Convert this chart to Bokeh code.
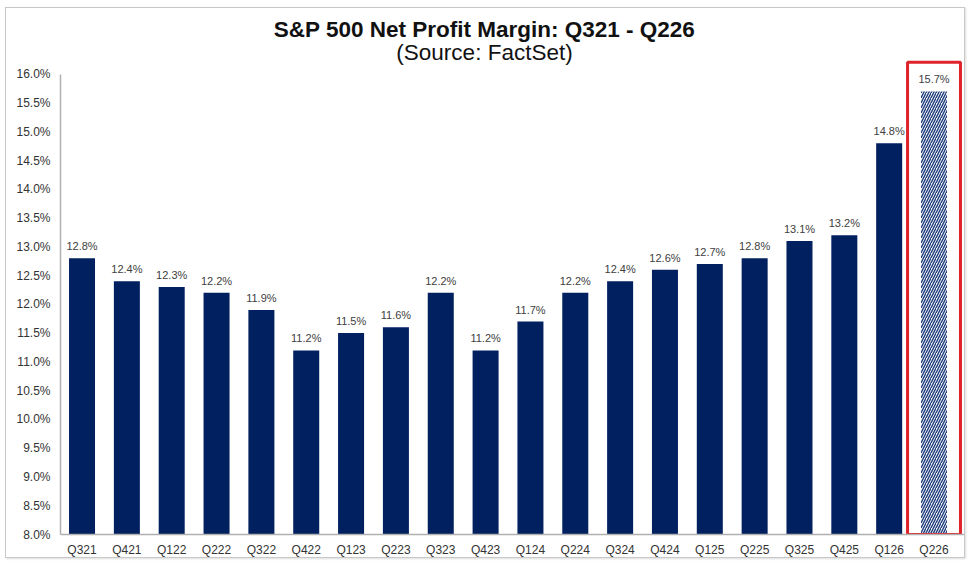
import numpy as np
from bokeh.plotting import figure
from bokeh.models import ColumnDataSource, Range1d, FixedTicker, PrintfTickFormatter, Label
from bokeh.core.properties import value
from bokeh.embed import file_html
from bokeh.resources import INLINE

quarters = ["Q321", "Q421", "Q122", "Q222", "Q322", "Q422", "Q123", "Q223", "Q323", "Q423",
            "Q124", "Q224", "Q324", "Q424", "Q125", "Q225", "Q325", "Q425", "Q126", "Q226"]
margins = [12.8, 12.4, 12.3, 12.2, 11.9, 11.2, 11.5, 11.6, 12.2, 11.2,
           11.7, 12.2, 12.4, 12.6, 12.7, 12.8, 13.1, 13.2, 14.8, 15.7]
n_actual = 19  # last quarter is an estimate

idx = list(range(len(quarters)))
labels = ["%.1f%%" % m for m in margins]

actual = ColumnDataSource(dict(x=idx[:n_actual], top=margins[:n_actual], lab=labels[:n_actual]))
est = ColumnDataSource(dict(x=idx[n_actual:], top=margins[n_actual:], lab=labels[n_actual:]))

NAVY = "#002060"
FONT = "Liberation Sans"

# frame runs up to the top of the canvas so the titles sit inside it;
# the y axis itself is bounded to 8-16
p = figure(
    width=960,
    height=551,
    x_range=Range1d(-0.48, 19.68),
    y_range=Range1d(8, 17.09),
    output_backend="svg",
    toolbar_location=None,
    min_border_left=54,
    min_border_right=2,
    min_border_top=3,
    min_border_bottom=20,
)
p.styles = {"border": "1px solid #c8c8c8", "box-shadow": "1px 1px 2px #dddddd",
            "margin-top": "7px", "margin-left": "5px"}

# titles: screen units count from the frame's bottom-left corner
p.add_layout(Label(x=424, y=505, x_units="screen", y_units="screen",
                   text="S&P 500 Net Profit Margin: Q321 - Q226", text_align="center",
                   text_baseline="middle", text_font=FONT, text_font_size="22.5px",
                   text_font_style="bold", text_color="#111111"))
p.add_layout(Label(x=424, y=482, x_units="screen", y_units="screen",
                   text="(Source: FactSet)", text_align="center",
                   text_baseline="middle", text_font=FONT, text_font_size="22.5px",
                   text_color="#111111"))

p.vbar(x="x", top="top", bottom=8, width=0.58, source=actual, fill_color=NAVY, line_color=None)
p.vbar(x="x", top="top", bottom=8, width=0.58, source=est, fill_color="#f4f6fa",
       line_color=None, hatch_pattern="right_diagonal_line", hatch_color="#1f3d7c",
       hatch_scale=5, hatch_weight=1.4)

for src in (actual, est):
    p.text(x="x", y="top", text="lab", source=src, text_align="center", text_baseline="bottom",
           y_offset=-6, text_font_size="11px", text_color="#404040", text_font=value(FONT))

# highlight box around the estimate
p.quad(left=[idx[-1] - 0.59], right=[idx[-1] + 0.59], bottom=[8], top=[16.21],
       fill_color=None, line_color="#e0232a", line_width=3)

p.grid.visible = False
p.outline_line_color = None
p.background_fill_color = "white"
p.border_fill_color = "white"

p.yaxis.ticker = FixedTicker(ticks=list(np.arange(8, 16.01, 0.5)))
p.yaxis.formatter = PrintfTickFormatter(format="%.1f%%")
p.yaxis.bounds = (8, 16)
p.xaxis.ticker = FixedTicker(ticks=idx)
p.xaxis.major_label_overrides = {i: q for i, q in zip(idx, quarters)}

for ax in (p.xaxis, p.yaxis):
    ax.axis_line_color = "#b0b0b0"
    ax.axis_line_width = 1.5
    ax.major_tick_line_color = None
    ax.minor_tick_line_color = None
    ax.major_label_text_font = FONT
    ax.major_label_text_font_size = "12px"
    ax.major_label_text_color = "#333333"
p.yaxis.major_label_standoff = 4
p.xaxis.major_label_standoff = 2

open("out.html", "w").write(file_html(p, INLINE))
